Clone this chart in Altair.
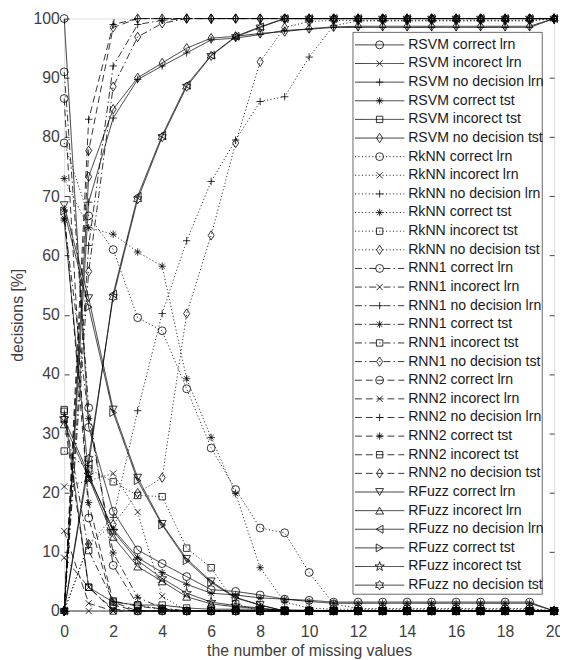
import altair as alt
import pandas as pd

x_vals = list(range(21))

series_names = [
    "RSVM correct lrn", "RSVM incorect lrn", "RSVM no decision lrn",
    "RSVM correct tst", "RSVM incorect tst", "RSVM no decision tst",
    "RkNN correct lrn", "RkNN incorect lrn", "RkNN no decision lrn",
    "RkNN correct tst", "RkNN incorect tst", "RkNN no decision tst",
    "RNN1 correct lrn", "RNN1 incorect lrn", "RNN1 no decision lrn",
    "RNN1 correct tst", "RNN1 incorect tst", "RNN1 no decision tst",
    "RNN2 correct lrn", "RNN2 incorect lrn", "RNN2 no decision lrn",
    "RNN2 correct tst", "RNN2 incorect tst", "RNN2 no decision tst",
    "RFuzz correct lrn", "RFuzz incorect lrn", "RFuzz no decision lrn",
    "RFuzz correct tst", "RFuzz incorect tst", "RFuzz no decision tst",
]

# RSVM
rsvm_correct_lrn = [100, 31.0, 16.8, 10.3, 8.0, 5.8, 3.6, 3.3, 2.7, 2.0, 1.8, 1.5, 1.5, 1.5, 1.5, 1.5, 1.5, 1.5, 1.5, 1.5, 0]
rsvm_incorect_lrn = [0, 0, 0, 0, 0, 0, 0, 0, 0, 0, 0, 0, 0, 0, 0, 0, 0, 0, 0, 0, 0]
rsvm_nodec_lrn = [0, 69.0, 83.2, 89.7, 92.0, 94.2, 96.4, 96.7, 97.3, 98.0, 98.2, 98.5, 98.5, 98.5, 98.5, 98.5, 98.5, 98.5, 98.5, 98.5, 100]
rsvm_correct_tst = [66.0, 22.7, 13.8, 9.0, 6.5, 4.5, 3.0, 2.7, 2.2, 2.0, 1.6, 1.3, 1.3, 1.3, 1.3, 1.3, 1.3, 1.3, 1.3, 1.3, 0]
rsvm_incorect_tst = [34.0, 4.0, 1.5, 1.0, 1.0, 0.5, 0.3, 0.3, 0.3, 0.2, 0.1, 0.1, 0, 0, 0, 0, 0, 0, 0, 0, 0]
rsvm_nodec_tst = [0, 73.3, 84.7, 90.0, 92.5, 95.0, 96.7, 97.0, 97.5, 97.8, 98.3, 98.6, 98.7, 98.7, 98.7, 98.7, 98.7, 98.7, 98.7, 98.7, 100]

# RkNN
rknn_correct_lrn = [79.0, 66.7, 61.0, 49.5, 47.3, 37.5, 27.5, 20.5, 14.0, 13.2, 6.5, 1.2, 0.4, 0.4, 0.4, 0.4, 0.4, 0.4, 0.4, 0.4, 0]
rknn_incorect_lrn = [21.0, 22.0, 23.2, 16.7, 2.5, 0, 0, 0, 0, 0, 0, 0, 0, 0, 0, 0, 0, 0, 0, 0, 0]
rknn_nodec_lrn = [0, 11.3, 15.8, 33.8, 50.2, 62.5, 72.5, 79.5, 86.0, 86.8, 93.5, 98.8, 99.6, 99.6, 99.6, 99.6, 99.6, 99.6, 99.6, 99.6, 100]
rknn_correct_tst = [73.0, 64.7, 63.6, 60.6, 58.2, 39.2, 29.3, 19.8, 7.3, 1.5, 0.5, 0.3, 0.3, 0.3, 0.3, 0.3, 0.3, 0.3, 0.3, 0.3, 0]
rknn_incorect_tst = [27.0, 24.0, 21.8, 19.5, 19.3, 10.6, 7.3, 1.2, 0, 0, 0, 0, 0, 0, 0, 0, 0, 0, 0, 0, 0]
rknn_nodec_tst = [0, 11.3, 14.6, 19.9, 22.5, 50.2, 63.4, 79.0, 92.7, 98.5, 99.5, 99.7, 99.7, 99.7, 99.7, 99.7, 99.7, 99.7, 99.7, 99.7, 100]

# RNN1
rnn1_correct_lrn = [91.0, 34.3, 7.7, 1.0, 0.3, 0, 0, 0, 0, 0, 0, 0, 0, 0, 0, 0, 0, 0, 0, 0, 0]
rnn1_incorect_lrn = [9.0, 4.0, 0.3, 0, 0, 0, 0, 0, 0, 0, 0, 0, 0, 0, 0, 0, 0, 0, 0, 0, 0]
rnn1_nodec_lrn = [0, 61.7, 92.0, 99.0, 99.7, 100, 100, 100, 100, 100, 100, 100, 100, 100, 100, 100, 100, 100, 100, 100, 100]
rnn1_correct_tst = [66.3, 32.5, 9.8, 2.3, 0.5, 0, 0, 0, 0, 0, 0, 0, 0, 0, 0, 0, 0, 0, 0, 0, 0]
rnn1_incorect_tst = [33.7, 10.2, 1.7, 0.8, 0.3, 0, 0, 0, 0, 0, 0, 0, 0, 0, 0, 0, 0, 0, 0, 0, 0]
rnn1_nodec_tst = [0, 57.3, 88.5, 96.9, 99.2, 100, 100, 100, 100, 100, 100, 100, 100, 100, 100, 100, 100, 100, 100, 100, 100]

# RNN2
rnn2_correct_lrn = [86.5, 15.7, 1.0, 0, 0, 0, 0, 0, 0, 0, 0, 0, 0, 0, 0, 0, 0, 0, 0, 0, 0]
rnn2_incorect_lrn = [13.5, 1.3, 0, 0, 0, 0, 0, 0, 0, 0, 0, 0, 0, 0, 0, 0, 0, 0, 0, 0, 0]
rnn2_nodec_lrn = [0, 83.0, 99.0, 100, 100, 100, 100, 100, 100, 100, 100, 100, 100, 100, 100, 100, 100, 100, 100, 100, 100]
rnn2_correct_tst = [67.7, 18.3, 1.5, 0, 0, 0, 0, 0, 0, 0, 0, 0, 0, 0, 0, 0, 0, 0, 0, 0, 0]
rnn2_incorect_tst = [32.3, 4.0, 0, 0, 0, 0, 0, 0, 0, 0, 0, 0, 0, 0, 0, 0, 0, 0, 0, 0, 0]
rnn2_nodec_tst = [0, 77.7, 98.5, 100, 100, 100, 100, 100, 100, 100, 100, 100, 100, 100, 100, 100, 100, 100, 100, 100, 100]

# RFuzz
rfuzz_correct_lrn = [68.5, 52.8, 34.0, 22.5, 14.7, 8.8, 5.0, 2.3, 1.0, 0, 0, 0, 0, 0, 0, 0, 0, 0, 0, 0, 0]
rfuzz_incorect_lrn = [31.5, 22.5, 12.5, 7.5, 5.0, 2.4, 1.2, 0.7, 0.4, 0, 0, 0, 0, 0, 0, 0, 0, 0, 0, 0, 0]
rfuzz_nodec_lrn = [0, 24.7, 53.5, 70.0, 80.3, 88.8, 93.8, 97.0, 98.6, 100, 100, 100, 100, 100, 100, 100, 100, 100, 100, 100, 100]
rfuzz_correct_tst = [67.5, 51.3, 33.5, 22.0, 14.5, 8.5, 4.8, 2.2, 1.0, 0, 0, 0, 0, 0, 0, 0, 0, 0, 0, 0, 0]
rfuzz_incorect_tst = [32.5, 23.0, 13.5, 8.5, 5.5, 3.0, 1.5, 0.9, 0.5, 0, 0, 0, 0, 0, 0, 0, 0, 0, 0, 0, 0]
rfuzz_nodec_tst = [0, 25.7, 53.0, 69.5, 80.0, 88.5, 93.7, 96.9, 98.5, 100, 100, 100, 100, 100, 100, 100, 100, 100, 100, 100, 100]

all_values = [
    rsvm_correct_lrn, rsvm_incorect_lrn, rsvm_nodec_lrn, rsvm_correct_tst, rsvm_incorect_tst, rsvm_nodec_tst,
    rknn_correct_lrn, rknn_incorect_lrn, rknn_nodec_lrn, rknn_correct_tst, rknn_incorect_tst, rknn_nodec_tst,
    rnn1_correct_lrn, rnn1_incorect_lrn, rnn1_nodec_lrn, rnn1_correct_tst, rnn1_incorect_tst, rnn1_nodec_tst,
    rnn2_correct_lrn, rnn2_incorect_lrn, rnn2_nodec_lrn, rnn2_correct_tst, rnn2_incorect_tst, rnn2_nodec_tst,
    rfuzz_correct_lrn, rfuzz_incorect_lrn, rfuzz_nodec_lrn, rfuzz_correct_tst, rfuzz_incorect_tst, rfuzz_nodec_tst,
]

rows = []
for name, ys in zip(series_names, all_values):
    for xv, yv in zip(x_vals, ys):
        rows.append({"series": name, "x": xv, "y": yv})
df = pd.DataFrame(rows)
legend_df = pd.DataFrame({"series": series_names})

# styles
SOLID = [1, 0]
DOTTED = [1.2, 2.3]
DASHDOT = [7, 3, 1.5, 3]
DASHED = [7, 4]
dashes = [SOLID] * 6 + [DOTTED] * 6 + [DASHDOT] * 6 + [DASHED] * 6 + [SOLID] * 6

CIRCLE = "circle"
XMARK = "M-1,-1L1,1M-1,1L1,-1"
PLUS = "M-1,0L1,0M0,-1L0,1"
STAR = "M-1,0L1,0M0,-1L0,1M-0.7,-0.7L0.7,0.7M-0.7,0.7L0.7,-0.7"
SQUARE = "square"
DIAMOND = "M0,-1L0.65,0L0,1L-0.65,0Z"
PENTA = ("M0,-1L0.225,-0.309L0.951,-0.309L0.363,0.118L0.588,0.809L0,0.382"
         "L-0.588,0.809L-0.363,0.118L-0.951,-0.309L-0.225,-0.309Z")
HEXA = ("M0,-1L0.289,-0.5L0.866,-0.5L0.577,0L0.866,0.5L0.289,0.5L0,1"
        "L-0.289,0.5L-0.866,0.5L-0.577,0L-0.866,-0.5L-0.289,-0.5Z")
base_shapes = [CIRCLE, XMARK, PLUS, STAR, SQUARE, DIAMOND]
base_sizes = [64, 40, 56, 56, 42, 90]
shapes = base_shapes * 4 + ["triangle-down", "triangle-up", "triangle-left", "triangle-right", PENTA, HEXA]
sizes = base_sizes * 4 + [64, 64, 64, 64, 100, 90]

dash_scale = alt.Scale(domain=series_names, range=dashes)
shape_scale = alt.Scale(domain=series_names, range=shapes)
size_scale = alt.Scale(domain=series_names, range=sizes, type="ordinal")

AX = "#404040"
FONT = "Liberation Sans"
xscale = alt.Scale(domain=[0, 20], nice=False, zero=False)
yscale = alt.Scale(domain=[0, 100], nice=False)
ticks_x = list(range(0, 21, 2))
ticks_y = list(range(0, 101, 10))

bottom_axis = alt.Axis(values=ticks_x, title="the number of missing values", grid=False, domain=False,
                       tickSize=5, offset=-5, tickColor=AX, labelColor=AX, titleColor=AX,
                       labelFontSize=16, titleFontSize=16, labelPadding=13, titlePadding=3,
                       labelFont=FONT, titleFont=FONT, titleFontWeight="normal", labelFlush=False)
left_axis = alt.Axis(values=ticks_y, title="decisions [%]", grid=False, domain=False,
                     tickSize=5, offset=-5, tickColor=AX, labelColor=AX, titleColor=AX,
                     labelFontSize=16, titleFontSize=16, labelPadding=5, titlePadding=8,
                     labelFont=FONT, titleFont=FONT, titleFontWeight="normal", labelFlush=False)
top_axis = alt.Axis(orient="top", values=ticks_x, title="", labels=False, grid=False, domain=False,
                    tickSize=5, offset=-5, tickColor=AX)
right_axis = alt.Axis(orient="right", values=ticks_y, title="", labels=False, grid=False, domain=False,
                      tickSize=5, offset=-5, tickColor=AX)

lines = alt.Chart(df).mark_line(color="black", strokeWidth=0.8).encode(
    x=alt.X("x:Q", scale=xscale, axis=bottom_axis),
    y=alt.Y("y:Q", scale=yscale, axis=left_axis),
    strokeDash=alt.StrokeDash("series:N", scale=dash_scale, legend=None),
)
points = alt.Chart(df).mark_point(filled=False, color="black", strokeWidth=0.8, opacity=1).encode(
    x=alt.X("x:Q", scale=xscale, axis=top_axis),
    y=alt.Y("y:Q", scale=yscale, axis=right_axis),
    shape=alt.Shape("series:N", scale=shape_scale, legend=None),
    size=alt.Size("series:N", scale=size_scale, legend=None),
)
plot = alt.layer(lines, points).resolve_axis(x="independent", y="independent")

leg_y = alt.Y("series:N", scale=alt.Scale(domain=series_names, type="point", range=[26.7, 574.8], padding=0), axis=None)
leg_box = alt.Chart(pd.DataFrame({"k": [0]})).mark_rect(fill="white", stroke=AX, strokeWidth=0.8).encode(
    x=alt.value(293), x2=alt.value(485), y=alt.value(14), y2=alt.value(584))
leg_lines = alt.Chart(legend_df).mark_rule(color="black", strokeWidth=0.8).encode(
    x=alt.value(295), x2=alt.value(345), y=leg_y,
    strokeDash=alt.StrokeDash("series:N", scale=dash_scale, legend=None))
leg_pts = alt.Chart(legend_df).mark_point(filled=False, color="black", strokeWidth=0.8, opacity=1).encode(
    x=alt.value(320), y=leg_y,
    shape=alt.Shape("series:N", scale=shape_scale, legend=None),
    size=alt.Size("series:N", scale=size_scale, legend=None))
leg_text = alt.Chart(legend_df).mark_text(align="left", baseline="middle", fontSize=14.3, font=FONT,
                                          color="#1a1a1a").encode(
    x=alt.value(349), y=leg_y, text="series:N")
legend = alt.layer(leg_box, leg_lines, leg_pts, leg_text)

chart = alt.layer(plot, legend).resolve_scale(y="independent").properties(
    width=497, height=601,
    padding={"left": 57, "top": 6, "right": 6, "bottom": 44},
    autosize=alt.AutoSizeParams(type="none"),
).configure_view(stroke=AX, strokeWidth=1).configure(font=FONT)

chart.save("out.html", embed_options={"renderer": "svg", "actions": False})
